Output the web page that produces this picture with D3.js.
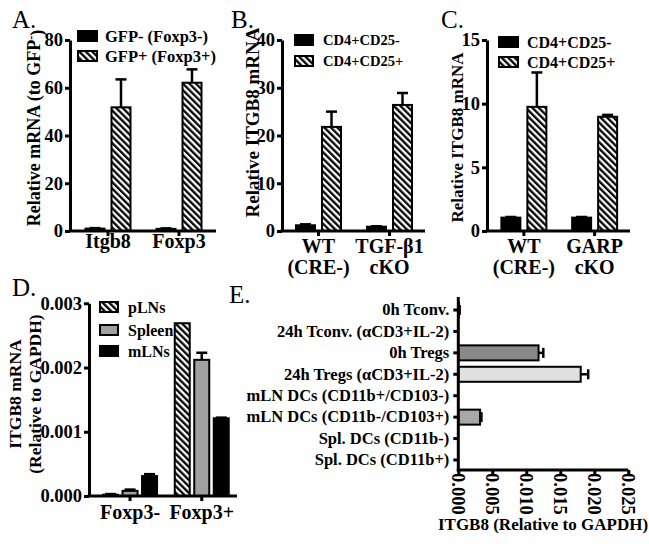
<!DOCTYPE html>
<html><head><meta charset="utf-8">
<script src="https://cdn.jsdelivr.net/npm/d3@7"></script>
<style>
body{margin:0;background:#fff}
svg text{font-family:"Liberation Serif","Times New Roman",serif;fill:#000}
</style></head><body><svg id="c" width="649" height="544"></svg>
<script>
// ---------- DATA ----------
// Panel A
const aGroups = [["Itgb8"], ["Foxp3"]];
const aSeries = ["GFP- (Foxp3-)", "GFP+ (Foxp3+)"];
const aValues = [[1.0, 0.9], [51.8, 62.1]];
const aErrors = [[0.2, 0.2], [11.7, 5.6]];
const aTicks = [0, 20, 40, 60, 80];
// Panel B
const bGroups = [["WT", "(CRE-)"], ["TGF-β1", "cKO"]];
const bSeries = ["CD4+CD25-", "CD4+CD25+"];
const bValues = [[1.2, 0.9], [21.8, 26.4]];
const bErrors = [[0.2, 0.1], [3.2, 2.5]];
const bTicks = [0, 10, 20, 30, 40];
// Panel C
const cGroups = [["WT", "(CRE-)"], ["GARP", "cKO"]];
const cSeries = ["CD4+CD25-", "CD4+CD25+"];
const cValues = [[1.05, 1.05], [9.75, 8.97]];
const cErrors = [[0.05, 0.05], [2.7, 0.15]];
const cTicks = [0, 5, 10, 15];
// Panel D
const dGroups = [["Foxp3-"], ["Foxp3+"]];
const dSeries = ["pLNs", "Spleen", "mLNs"];
const dValues = [[0.00002, 0.00269], [0.00008, 0.00212], [0.00031, 0.00121]];
const dErrors = [[0.00001, 0], [0.00002, 0.00011], [0.00003, 0.00001]];
const dTicks = [0, 0.001, 0.002, 0.003];
// Panel E
const eCategories = ["0h Tconv.", "24h Tconv. (αCD3+IL-2)", "0h Tregs", "24h Tregs (αCD3+IL-2)",
  "mLN DCs (CD11b+/CD103-)", "mLN DCs (CD11b-/CD103+)", "Spl. DCs (CD11b-)", "Spl. DCs (CD11b+)"];
const eValues = [0.0001, 0, 0.0118, 0.0180, 0, 0.0032, 0, 0];
const eErrors = [0.0001, 0, 0.0007, 0.0011, 0, 0.0002, 0, 0];
const eTicks = [0, 0.005, 0.010, 0.015, 0.020, 0.025];

// ---------- STYLE ----------
const svg = d3.select("#c");
const defs = svg.append("defs");
const pat = defs.append("pattern").attr("id", "hatch").attr("patternUnits", "userSpaceOnUse")
  .attr("width", 4.6).attr("height", 4.6).attr("patternTransform", "rotate(-45)");
pat.append("rect").attr("width", 4.6).attr("height", 4.6).attr("fill", "#fff");
pat.append("line").attr("x1", 1.2).attr("y1", 0).attr("x2", 1.2).attr("y2", 4.6)
  .attr("stroke", "#000").attr("stroke-width", 2.3);

const fillOf = f => f === "hatch" ? "url(#hatch)" : f;
const FONT = '"Liberation Serif","Times New Roman",serif';

function vPanel(o) {
  const g = svg.append("g");
  const y = d3.scaleLinear().domain([0, o.ticks[o.ticks.length - 1]]).range([o.y0, o.y1]);
  const x0 = d3.scaleBand().domain(o.groups.map(d => d.join(" "))).range([o.gx0, o.gx1]);
  const x1 = d3.scaleBand().domain(o.series).range([0, o.innerW]).paddingInner(o.innerPad);
  const gc = k => x0(k) + x0.bandwidth() / 2;
  o.series.forEach((s, si) => {
    o.groups.forEach((grp, gi) => {
      const k = grp.join(" ");
      const v = o.values[si][gi], e = o.errors[si][gi];
      const bx = gc(k) - o.innerW / 2 + x1(s);
      const cx = bx + x1.bandwidth() / 2;
      if (e > 0) {
        g.append("line").attr("x1", cx).attr("x2", cx).attr("y1", y(v)).attr("y2", y(v + e))
          .attr("stroke", "#000").attr("stroke-width", 2.5);
        g.append("line").attr("x1", cx - 5.5).attr("x2", cx + 5.5).attr("y1", y(v + e)).attr("y2", y(v + e))
          .attr("stroke", "#000").attr("stroke-width", 2.5);
      }
      g.append("rect").attr("x", bx).attr("y", y(v)).attr("width", x1.bandwidth())
        .attr("height", Math.max(0, o.y0 - y(v)))
        .attr("fill", fillOf(o.fills[si])).attr("stroke", "#000").attr("stroke-width", 2);
    });
  });
  // y axis
  const ax = g.append("g").attr("transform", `translate(${o.axisX},0)`)
    .call(d3.axisLeft(y).tickValues(o.ticks).tickSize(5).tickSizeOuter(0).tickFormat(o.fmt || d3.format("d")));
  ax.select(".domain").attr("stroke-width", 3);
  ax.selectAll(".tick line").attr("stroke-width", 3);
  ax.selectAll(".tick text").attr("x", -7).style("font-family", FONT).style("font-size", "18.5px")
    .style("font-weight", "bold");
  // x axis line + ticks
  g.append("line").attr("x1", o.axisX - 1.5).attr("x2", o.xEnd).attr("y1", o.y0).attr("y2", o.y0)
    .attr("stroke", "#000").attr("stroke-width", 3);
  o.groups.forEach(grp => {
    const k = grp.join(" ");
    g.append("line").attr("x1", gc(k)).attr("x2", gc(k)).attr("y1", o.y0).attr("y2", o.y0 + 5)
      .attr("stroke", "#000").attr("stroke-width", 3);
    grp.forEach((line, li) => {
      g.append("text").attr("x", gc(k)).attr("y", o.labelY + li * 21).attr("text-anchor", "middle")
        .style("font-size", "20px").style("font-weight", "bold").text(line);
    });
  });
  // legend
  o.series.forEach((s, si) => {
    g.append("rect").attr("x", o.legX).attr("y", o.legY[si]).attr("width", o.legW).attr("height", 10)
      .attr("fill", fillOf(o.fills[si])).attr("stroke", "#000").attr("stroke-width", 2);
    g.append("text").attr("x", o.legTX).attr("y", o.legY[si] + 5).attr("dy", "0.35em")
      .style("font-size", o.legFont + "px").style("font-weight", "bold").text(s);
  });
  // panel letter
  g.append("text").attr("x", o.letterX).attr("y", o.letterY).style("font-size", "25px").text(o.letter);
  return g;
}

// Panel A
const gA = vPanel({groups: aGroups, series: aSeries, values: aValues, errors: aErrors, ticks: aTicks,
  fills: ["#000", "hatch"], y0: 231, y1: 40, axisX: 70, xEnd: 216, gx0: 72.5, gx1: 214.5,
  innerW: 45, innerPad: 0.269, labelY: 248,
  legX: 78, legY: [31, 51], legW: 19, legTX: 105, legFont: 16.5, letter: "A.", letterX: 12, letterY: 28});
const tA = gA.append("text").attr("transform", "translate(34,128) rotate(-90)").attr("text-anchor", "middle")
  .attr("dy", "0.35em").style("font-size", "18px").style("font-weight", "bold");
tA.append("tspan").text("Relative mRNA (to GFP");
tA.append("tspan").attr("dy", "-0.45em").style("font-size", "12px").text("-");
tA.append("tspan").attr("dy", "0.45em").text(")");

// Panel B
const gB = vPanel({groups: bGroups, series: bSeries, values: bValues, errors: bErrors, ticks: bTicks,
  fills: ["#000", "hatch"], y0: 231, y1: 40, axisX: 282, xEnd: 425, gx0: 283, gx1: 425,
  innerW: 45, innerPad: 0.269, labelY: 253,
  legX: 295, legY: [35, 56], legW: 18, legTX: 323, legFont: 14.5, letter: "B.", letterX: 231, letterY: 28});
gB.append("text").attr("transform", "translate(252,122.5) rotate(-90)").attr("text-anchor", "middle")
  .attr("dy", "0.35em").style("font-size", "19px").style("font-weight", "bold").text("Relative ITGB8 mRNA");

// Panel C
const gC = vPanel({groups: cGroups, series: cSeries, values: cValues, errors: cErrors, ticks: cTicks,
  fills: ["#000", "hatch"], y0: 231, y1: 40, axisX: 487, xEnd: 630, gx0: 488.5, gx1: 630,
  innerW: 45, innerPad: 0.269, labelY: 253,
  legX: 499, legY: [37, 57], legW: 19, legTX: 527, legFont: 16, letter: "C.", letterX: 441, letterY: 28});
gC.append("text").attr("transform", "translate(457,137.5) rotate(-90)").attr("text-anchor", "middle")
  .attr("dy", "0.35em").style("font-size", "17px").style("font-weight", "bold").text("Relative ITGB8 mRNA");

// Panel D
const gD = vPanel({groups: dGroups, series: dSeries, values: dValues, errors: dErrors, ticks: dTicks,
  fmt: d3.format(".3f"),
  fills: ["hatch", "#a0a0a0", "#000"], y0: 496, y1: 303.3, axisX: 89, xEnd: 237, gx0: 94.2, gx1: 237.6,
  innerW: 54, innerPad: 0.2308, labelY: 519,
  legX: 100, legY: [302, 325, 346], legW: 18, legTX: 128, legFont: 16, letter: "D.", letterX: 12, letterY: 296});
gD.append("text").attr("transform", "translate(15,394) rotate(-90)").attr("text-anchor", "middle")
  .attr("dy", "0.35em").style("font-size", "17.5px").style("font-weight", "bold").text("ITGB8 mRNA");
gD.append("text").attr("transform", "translate(35,394) rotate(-90)").attr("text-anchor", "middle")
  .attr("dy", "0.35em").style("font-size", "17.5px").style("font-weight", "bold").text("(Relative to GAPDH)");

// Panel E
(function () {
  const g = svg.append("g");
  const eFills = ["#000", "#fff", "#8a8a8a", "#e0e0e0", "#fff", "#a8a8a8", "#fff", "#fff"];
  const x = d3.scaleLinear().domain([0, 0.025]).range([458.3, 628.3]);
  const y = d3.scaleBand().domain(eCategories).range([299.3, 470.7]).paddingInner(0.3).paddingOuter(0.15);
  eCategories.forEach((c, i) => {
    const v = eValues[i], e = eErrors[i];
    const cy = y(c) + y.bandwidth() / 2;
    if (e > 0) {
      g.append("line").attr("x1", x(v)).attr("x2", x(v + e)).attr("y1", cy).attr("y2", cy)
        .attr("stroke", "#000").attr("stroke-width", 2.5);
      g.append("line").attr("x1", x(v + e)).attr("x2", x(v + e)).attr("y1", cy - 5).attr("y2", cy + 5)
        .attr("stroke", "#000").attr("stroke-width", 2.5);
    }
    if (v > 0) {
      g.append("rect").attr("x", x(0)).attr("y", y(c)).attr("width", x(v) - x(0)).attr("height", y.bandwidth())
        .attr("fill", eFills[i]).attr("stroke", "#000").attr("stroke-width", 2);
    }
  });
  const ay = g.append("g").attr("transform", `translate(${x(0)},0)`)
    .call(d3.axisLeft(y).tickSize(5).tickSizeOuter(0));
  ay.select(".domain").attr("stroke-width", 3).attr("d", `M0,297V471.5`);
  ay.selectAll(".tick line").attr("stroke-width", 3);
  ay.selectAll(".tick text").attr("x", -9).style("font-family", FONT).style("font-size", "16.5px")
    .style("font-weight", "bold");
  const axx = g.append("g").attr("transform", `translate(0,470)`)
    .call(d3.axisBottom(x).tickValues(eTicks).tickSize(5).tickSizeOuter(0).tickFormat(d3.format(".3f")));
  axx.select(".domain").attr("stroke-width", 3).attr("d", `M${x(0) - 1.5},0H${x(0.025)}`);
  axx.selectAll(".tick line").attr("stroke-width", 3);
  axx.selectAll(".tick text").attr("transform", "rotate(90)").attr("x", 3).attr("y", 0).attr("dy", "0.35em")
    .attr("text-anchor", "start").style("font-family", FONT).style("font-size", "18.5px").style("font-weight", "bold");
  g.append("text").attr("x", 543).attr("y", 530).attr("text-anchor", "middle")
    .style("font-size", "17px").style("font-weight", "bold").text("ITGB8 (Relative to GAPDH)");
  g.append("text").attr("x", 229).attr("y", 303).style("font-size", "25px").text("E.");
})();
</script></body></html>
